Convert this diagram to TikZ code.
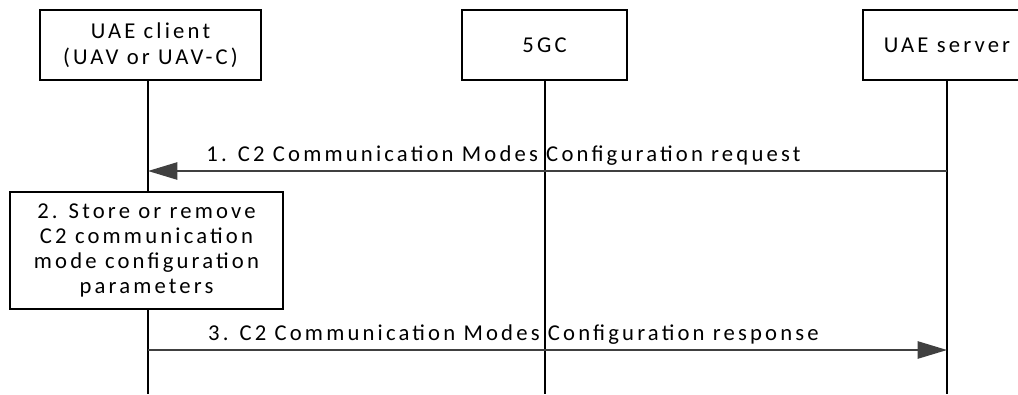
\documentclass[tikz,border=0pt]{standalone}
\usepackage{fontspec}
\setmainfont{Carlito}[LetterSpace=14]
\usetikzlibrary{arrows.meta}
\definecolor{arr}{HTML}{404040}
\tikzset{
  ent/.style={draw, line width=1.5pt, minimum height=52.5pt, align=center, inner sep=0pt, font=\fontsize{17}{19.5}\selectfont},
  act/.style={draw, line width=1.1pt, align=center, inner sep=0pt, font=\fontsize{17}{18.75}\selectfont},
  life/.style={line width=1.1pt},
  msg/.style={draw=arr, line width=1.1pt, -{Triangle[length=22pt,width=13pt]}},
  lbl/.style={font=\fontsize{17}{19}\selectfont, inner sep=0pt}
}
\begin{document}
\begin{tikzpicture}[x=0.75pt,y=-0.75pt]
\useasboundingbox (0,0) rectangle (1018,394);
\node[ent, minimum width=165.75pt] (c) at (150.5,45) {UAE client\\(UAV or UAV-C)};
\node[ent, minimum width=123.75pt] (g) at (544.5,45) {5GC};
\node[ent, minimum width=126pt] (s) at (947,45) {UAE server};
\coordinate (cb) at (148,394);
\coordinate (gb) at (545,394);
\coordinate (sb) at (947,394);
\draw[life] (c.south -| cb) -- (cb);
\draw[life] (g.south -| gb) -- (gb);
\draw[life] (s.south -| sb) -- (sb);
\node[act, minimum width=204.75pt, minimum height=87.75pt, fill=white] (p) at (146.5,250.5) {2. Store or remove\\C2 communication\\mode configuration\\parameters};
\coordinate (a1s) at (947,171);
\coordinate (a1e) at (148,171);
\draw[msg] (a1s) -- (a1e);
\node[lbl] (l1) at (503.5,156) {1. C2 Communication Modes Configuration request};
\coordinate (a3s) at (148,350);
\coordinate (a3e) at (947,350);
\draw[msg] (a3s) -- (a3e);
\node[lbl] (l3) at (513.5,335) {3. C2 Communication Modes Configuration response};
\end{tikzpicture}
\end{document}
